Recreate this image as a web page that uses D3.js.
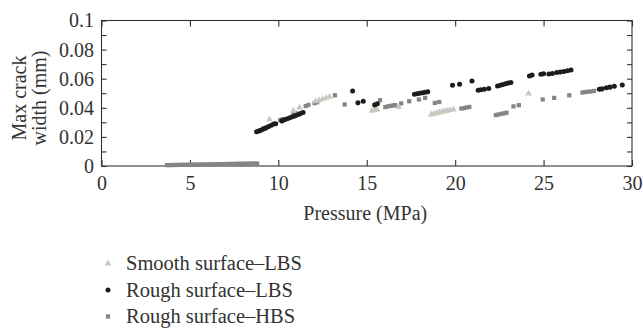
<!DOCTYPE html>
<html>
<head>
<meta charset="utf-8">
<script src="https://cdn.jsdelivr.net/npm/d3@7"></script>
<style>
  body { margin: 0; background: #fff; }
</style>
</head>
<body>
<div id="chart"></div>
<script>
// Smooth surface–LBS (light triangles)
const smoothLBS = [
  [9.5,0.032],[10.85,0.038],[11.2,0.0402],[12.1,0.0445],[12.3,0.0452],[12.5,0.046],
  [12.7,0.0468],[12.9,0.0475],[15.3,0.038],[15.45,0.0384],[15.6,0.0388],[16.8,0.0406],
  [18.65,0.0354],[18.8,0.0358],[18.95,0.0363],[19.1,0.0368],[19.25,0.0372],[19.4,0.0376],
  [19.55,0.038],[19.7,0.0384],[19.9,0.0388],[24.15,0.0498]
];

// Rough surface–LBS (black circles)
const roughLBS = [
  [8.77,0.0235],[8.9,0.024],[9.0,0.0245],[9.15,0.0255],[9.3,0.0262],[9.45,0.0272],
  [9.6,0.028],[9.75,0.0288],[9.85,0.029],[10.2,0.031],[10.35,0.0318],[10.5,0.0325],
  [10.65,0.0332],[10.8,0.0338],[10.95,0.0345],[11.1,0.0352],[11.25,0.036],[11.4,0.0368],
  [14.2,0.0516],[14.5,0.0434],[14.8,0.0445],[15.45,0.042],[15.6,0.0428],
  [17.7,0.0493],[17.85,0.0497],[18.0,0.05],[18.15,0.0504],[18.3,0.0507],[18.45,0.051],
  [19.85,0.0555],[20.25,0.0562],[20.95,0.0584],[21.3,0.052],[21.45,0.0524],[21.65,0.0528],
  [21.9,0.0532],[22.4,0.055],[22.55,0.0555],[22.7,0.056],[22.85,0.0565],[23.0,0.057],
  [23.15,0.0574],[24.2,0.0618],[24.35,0.0625],[24.85,0.063],[25.0,0.0634],[25.3,0.0633],
  [25.5,0.0636],[25.75,0.0642],[25.95,0.0646],[26.15,0.065],[26.35,0.0655],[26.55,0.066],
  [28.15,0.0527],[28.3,0.053],[28.55,0.0538],[28.75,0.0542],[29.0,0.0548],[29.45,0.0557]
];

// Rough surface–HBS (grey squares)
const roughHBS = [
  [3.7,0.0006],[3.85,0.0006],[4.0,0.0007],[4.15,0.0007],[4.3,0.0007],[4.45,0.0008],
  [4.6,0.0008],[4.75,0.0008],[4.9,0.0009],[5.05,0.0009],[5.2,0.0009],[5.35,0.001],
  [5.5,0.001],[5.65,0.001],[5.8,0.0011],[5.95,0.0011],[6.1,0.0011],[6.25,0.0012],
  [6.4,0.0012],[6.55,0.0012],[6.7,0.0013],[6.85,0.0013],[7.0,0.0013],[7.15,0.0014],
  [7.3,0.0014],[7.45,0.0014],[7.6,0.0015],[7.75,0.0015],[7.9,0.0015],[8.05,0.0016],
  [8.2,0.0016],[8.35,0.0016],[8.5,0.0017],[8.65,0.0017],[8.8,0.0017],
  [9.05,0.0247],[9.2,0.0255],[10.1,0.0315],[10.25,0.0322],[10.85,0.0355],[11.0,0.0362],
  [11.55,0.0412],[11.7,0.042],[12.05,0.0432],[12.2,0.0438],[13.2,0.0486],[13.75,0.0423],
  [15.75,0.0452],[16.05,0.0405],[16.2,0.041],[16.35,0.0413],[16.5,0.0416],[16.6,0.0418],
  [16.95,0.043],[17.4,0.0445],[17.95,0.0457],[18.3,0.0468],[18.85,0.0434],[19.1,0.044],
  [20.35,0.0395],[20.5,0.0398],[20.65,0.0402],[20.8,0.0406],[22.3,0.035],[22.45,0.0354],
  [22.6,0.0358],[22.75,0.0362],[22.9,0.0366],[23.3,0.041],[23.6,0.0418],[24.95,0.0457],
  [25.6,0.0468],[26.45,0.0486],[27.2,0.0505],[27.35,0.0508],[27.5,0.051],[27.65,0.0512],
  [27.85,0.0516]
];

const xTicks = [0, 5, 10, 15, 20, 25, 30];
const yTicks = [0, 0.02, 0.04, 0.06, 0.08, 0.1];
const yMinor = [0.01, 0.03, 0.05, 0.07, 0.09];
const legendLabels = ["Smooth surface\u2013LBS", "Rough surface\u2013LBS", "Rough surface\u2013HBS"];

const W = 643, H = 328;
const margin = { top: 20.5, right: 11, bottom: 162, left: 101.5 };
const width = W - margin.left - margin.right,
      height = H - margin.top - margin.bottom;

const serif = "'Liberation Serif', 'DejaVu Serif', serif";
const fontSize = "20px";
const axisColor = "#333";

const svg = d3.select("#chart").append("svg")
  .attr("width", W).attr("height", H);
const g = svg.append("g")
  .attr("transform", "translate(" + margin.left + "," + margin.top + ")");

const x = d3.scaleLinear().domain([0, 30]).range([0, width]);
const y = d3.scaleLinear().domain([0, 0.1]).range([height, 0]);

// frame
g.append("rect")
  .attr("width", width).attr("height", height)
  .attr("fill", "none").attr("stroke", axisColor).attr("stroke-width", 1.1);

// bottom axis, ticks inward
const xb = g.append("g").attr("transform", "translate(0," + height + ")")
  .call(d3.axisBottom(x).tickValues(xTicks).tickSize(-6).tickPadding(10).tickFormat(d3.format("d")));
// top axis, ticks inward, no labels
const xt = g.append("g")
  .call(d3.axisTop(x).tickValues(xTicks).tickSize(-6).tickFormat(""));
// left axis
const yl = g.append("g")
  .call(d3.axisLeft(y).tickValues(yTicks).tickSize(-5).tickPadding(7.5).tickFormat(d => d === 0 ? "0" : d3.format(".2~f")(d)));
const ylm = g.append("g")
  .call(d3.axisLeft(y).tickValues(yMinor).tickSize(-5).tickFormat(""));
// right axis
const yr = g.append("g").attr("transform", "translate(" + width + ",0)")
  .call(d3.axisRight(y).tickValues(yTicks.concat(yMinor)).tickSize(-5).tickFormat(""));

[xb, xt, yl, ylm, yr].forEach(a => {
  a.attr("font-family", null).attr("font-size", null);
  a.select(".domain").remove();
  a.selectAll("line").attr("stroke", axisColor).attr("stroke-width", 1.1);
  a.selectAll("text")
    .style("font-family", serif).style("font-size", fontSize).attr("fill", "#333");
});

// axis titles
g.append("text")
  .attr("x", width / 2 - 1.5).attr("y", height + 54)
  .attr("text-anchor", "middle")
  .style("font-family", serif).style("font-size", fontSize).attr("fill", "#333")
  .text("Pressure (MPa)");

const yt = svg.append("text")
  .attr("transform", "translate(0,98) rotate(-90)")
  .attr("text-anchor", "middle")
  .style("font-family", serif).style("font-size", fontSize).attr("fill", "#333");
yt.append("tspan").attr("x", 0).attr("y", 25.5).text("Max crack");
yt.append("tspan").attr("x", 0).attr("y", 45.5).text("width (mm)");

// markers
const colTri = "#c9c9c1", colCirc = "#1c1c1c", colSq = "#858585";
const triPath = d3.symbol().type(d3.symbolTriangle).size(20);
const circPath = d3.symbol().type(d3.symbolCircle).size(20);
const sqPath = d3.symbol().type(d3.symbolSquare).size(18);

g.append("g").selectAll("path").data(roughHBS).join("path")
  .attr("d", sqPath)
  .attr("transform", d => "translate(" + x(d[0]) + "," + y(d[1]) + ")")
  .attr("fill", colSq);

g.append("g").selectAll("path").data(smoothLBS).join("path")
  .attr("d", triPath)
  .attr("transform", d => "translate(" + x(d[0]) + "," + y(d[1]) + ")")
  .attr("fill", colTri);

g.append("g").selectAll("path").data(roughLBS).join("path")
  .attr("d", circPath)
  .attr("transform", d => "translate(" + x(d[0]) + "," + y(d[1]) + ")")
  .attr("fill", colCirc);

// legend
const legend = svg.append("g").attr("transform", "translate(108,263.5)");
const legPaths = [triPath, circPath, sqPath];
const legCols = [colTri, colCirc, colSq];
legendLabels.forEach((lab, i) => {
  const row = legend.append("g").attr("transform", "translate(0," + (i * 26.5) + ")");
  row.append("path").attr("d", legPaths[i]).attr("fill", legCols[i]);
  row.append("text").attr("x", 18).attr("y", 6.5)
    .style("font-family", serif).style("font-size", "20.5px").attr("fill", "#333")
    .text(lab);
});
</script>
</body>
</html>
